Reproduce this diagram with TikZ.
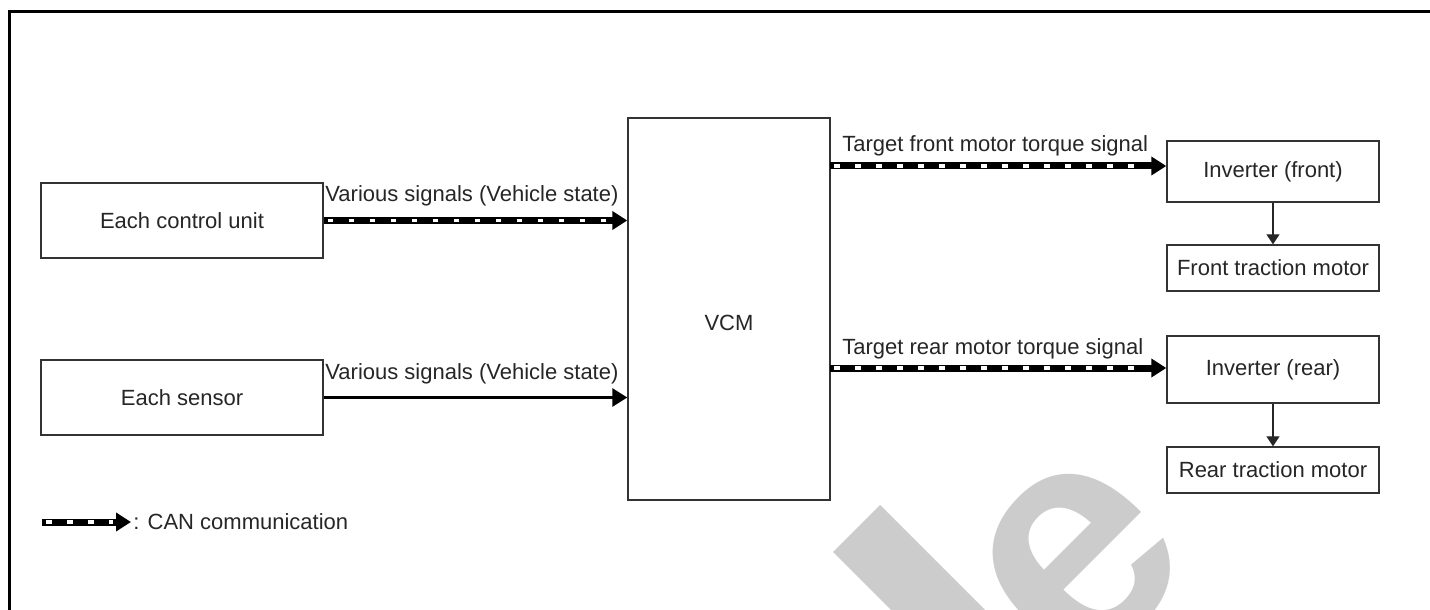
\documentclass[tikz,border=0pt]{standalone}
\usepackage{fontspec}
\setmainfont{Liberation Sans}
\usetikzlibrary{arrows.meta,calc}
\begin{document}
\begin{tikzpicture}[x=0.5pt,y=-0.5pt,
  box/.style={draw=black!80, fill=white, line width=0.7pt, inner sep=0pt, text=black!85, font=\fontsize{11}{13}\selectfont},
  lab/.style={inner sep=0pt, text=black!85, font=\fontsize{11}{13}\selectfont},
  wmark/.style={rotate=45, text=black!20, inner sep=0pt, font=\bfseries\fontsize{162}{162}\selectfont},
  can/.style={line width=3.5pt, black, -{Triangle[length=7.5pt,width=9pt]},
    postaction={draw=white, line width=1.7pt, dash pattern=on 2.8pt off 7.7pt, dash phase=-1pt, arrows=-, shorten >=9pt, shorten <=1pt}},
  solid arrow/.style={line width=1.5pt, black, -{Triangle[length=7.5pt,width=9pt]}},
  thin arrow/.style={line width=0.6pt, black!85, -{Triangle[length=5pt,width=6.5pt]}},
]
\useasboundingbox (0,0) rectangle (1430,610);
% watermark
\begin{scope}
  \clip (0,0) rectangle (1430,610);
  \node[wmark] (wml) at (940,612) {\scalebox{1.5}[1]{l}};
  \node[wmark] (wme) at (1080,562) {e};
\end{scope}
% frame
\draw[line width=1.5pt] (9.5,620) -- (9.5,12) -- (1440,12);
% boxes
\node[box, minimum width=141pt, minimum height=37.5pt] (ecu) at (182,220.5) {Each control unit};
\node[box, minimum width=141pt, minimum height=37.5pt] (sen) at (182,397.5) {Each sensor};
\node[box, minimum width=101pt, minimum height=191pt] (vcm) at (729,309) {};
\node[lab] (vcmt) at (729,323) {VCM};
\node[box, minimum width=106pt, minimum height=30.5pt] (invf) at (1273,171.5) {Inverter (front)};
\node[box, minimum width=106pt, minimum height=23pt] (motf) at (1273,268) {Front traction motor};
\node[box, minimum width=106pt, minimum height=33.5pt] (invr) at (1273,369.5) {Inverter (rear)};
\node[box, minimum width=106pt, minimum height=23pt] (motr) at (1273,470) {Rear traction motor};
% connectors
\draw[can] (ecu.east) -- (vcm.west |- ecu.east);
\node[lab, anchor=west] (l1) at (325,196) {Various signals (Vehicle state)};
\draw[solid arrow] (sen.east) -- (vcm.west |- sen.east);
\node[lab, anchor=west] (l2) at (325,374) {Various signals (Vehicle state)};
\coordinate (af) at (830,166);
\draw[can] (af) -- (invf.west |- af);
\node[lab, anchor=west] (l3) at (842,146) {Target front motor torque signal};
\coordinate (ar) at (830,368);
\draw[can] (ar) -- (invr.west |- ar);
\node[lab, anchor=west] (l4) at (842,349) {Target rear motor torque signal};
\draw[thin arrow] (invf.south) -- (motf.north);
\draw[thin arrow] (invr.south) -- (motr.north);
% legend
\coordinate (lg1) at (42,522);
\coordinate (lg2) at (131,522);
\draw[can] (lg1) -- (lg2);
\node[lab, anchor=west] (lgt) at (133,522) {: CAN communication};
\end{tikzpicture}
\end{document}
